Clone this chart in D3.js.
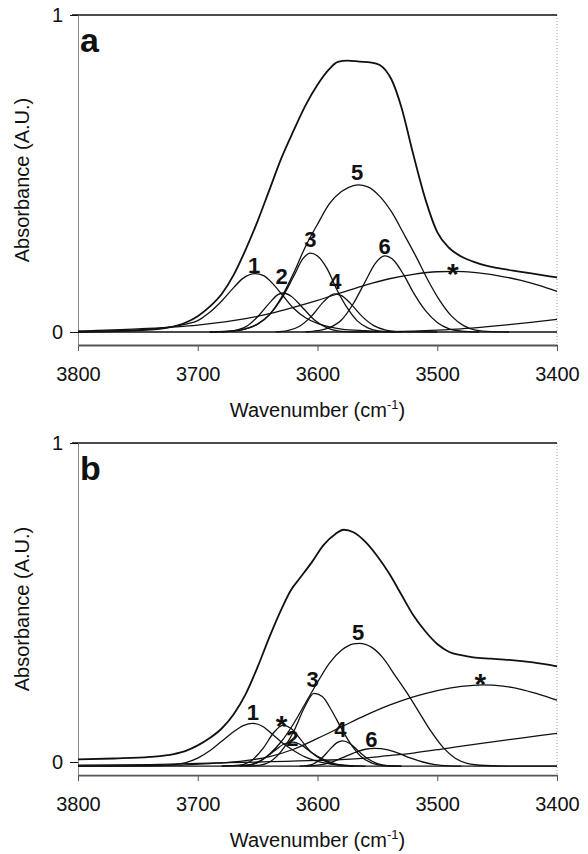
<!DOCTYPE html>
<html>
<head>
	<meta charset="utf-8">
	<script src="https://d3js.org/d3.v7.min.js"></script>
	<style>
		body { margin: 0; background: #fff; }
		text { font-family: "Liberation Sans", Arial, sans-serif; }
	</style>
</head>
<body>
	<div id="my_dataviz"></div>
	<script>

	// ---- data: [wavenumber, absorbance] ----
	// panel a
	const aTotal = [[3800,0],[3775,0.002],[3750,0.005],[3725,0.014],[3710,0.03],[3700,0.05],[3690,0.08],[3680,0.12],[3670,0.18],[3660,0.26],[3650,0.35],[3640,0.45],[3630,0.55],[3620,0.635],[3610,0.715],[3600,0.78],[3590,0.83],[3583,0.852],[3575,0.856],[3565,0.853],[3555,0.85],[3548,0.842],[3543,0.825],[3538,0.795],[3530,0.71],[3520,0.56],[3510,0.42],[3500,0.315],[3490,0.265],[3480,0.238],[3470,0.222],[3460,0.21],[3450,0.202],[3430,0.19],[3415,0.181],[3400,0.172]]
	const a1 = [[3800,0.002],[3760,0.005],[3740,0.009],[3720,0.017],[3710,0.025],[3700,0.036],[3690,0.062],[3680,0.098],[3670,0.14],[3662,0.17],[3652,0.184],[3645,0.178],[3638,0.155],[3630,0.12],[3620,0.075],[3610,0.045],[3600,0.027],[3590,0.016],[3580,0.009],[3560,0.004],[3540,0.001],[3500,0]]
	const a2 = [[3680,0],[3670,0.004],[3660,0.016],[3650,0.048],[3640,0.092],[3633,0.118],[3629,0.123],[3622,0.113],[3612,0.075],[3602,0.036],[3592,0.013],[3582,0.003],[3570,0]]
	const a3 = [[3690,0],[3670,0.003],[3660,0.01],[3650,0.025],[3640,0.055],[3630,0.105],[3620,0.175],[3612,0.232],[3606,0.249],[3600,0.24],[3592,0.2],[3584,0.135],[3575,0.075],[3567,0.036],[3558,0.013],[3548,0.003],[3535,0]]
	const a4 = [[3635,0],[3625,0.004],[3615,0.018],[3605,0.05],[3595,0.095],[3586,0.12],[3580,0.115],[3572,0.088],[3563,0.05],[3553,0.02],[3543,0.006],[3530,0]]
	const a5 = [[3690,0],[3670,0.004],[3660,0.01],[3650,0.025],[3640,0.055],[3630,0.11],[3620,0.185],[3610,0.27],[3600,0.34],[3590,0.405],[3580,0.443],[3570,0.462],[3566,0.464],[3558,0.458],[3548,0.428],[3538,0.378],[3528,0.31],[3518,0.24],[3508,0.165],[3498,0.1],[3488,0.05],[3478,0.02],[3468,0.006],[3455,0.001],[3440,0]]
	const a6 = [[3610,0],[3600,0.004],[3590,0.014],[3580,0.038],[3570,0.09],[3560,0.16],[3552,0.215],[3544,0.24],[3536,0.225],[3528,0.18],[3520,0.125],[3510,0.068],[3500,0.03],[3490,0.01],[3480,0.003],[3465,0]]
	const aStar = [[3800,0.003],[3750,0.01],[3700,0.022],[3660,0.042],[3640,0.058],[3620,0.078],[3600,0.1],[3580,0.124],[3560,0.148],[3540,0.168],[3520,0.182],[3500,0.19],[3485,0.191],[3470,0.188],[3450,0.178],[3430,0.163],[3415,0.147],[3400,0.128]]
	const aBase = [[3570,0],[3540,0.001],[3520,0.003],[3500,0.006],[3480,0.01],[3460,0.016],[3440,0.023],[3420,0.031],[3400,0.04]]
	const aFlat = [[3800,0],[3400,0]]

	// panel b
	const bTotal = [[3800,0.008],[3770,0.011],[3740,0.016],[3720,0.025],[3710,0.035],[3700,0.052],[3690,0.075],[3680,0.105],[3670,0.15],[3660,0.213],[3650,0.298],[3640,0.393],[3630,0.48],[3622,0.54],[3615,0.575],[3605,0.625],[3595,0.68],[3585,0.715],[3578,0.728],[3570,0.72],[3560,0.69],[3550,0.645],[3540,0.59],[3530,0.525],[3520,0.46],[3510,0.41],[3500,0.37],[3490,0.345],[3480,0.335],[3470,0.328],[3455,0.324],[3440,0.32],[3420,0.312],[3400,0.3]]
	const b1 = [[3800,-0.013],[3740,-0.012],[3720,-0.008],[3710,-0.002],[3700,0.012],[3690,0.035],[3680,0.065],[3670,0.095],[3662,0.114],[3654,0.121],[3646,0.112],[3638,0.088],[3630,0.062],[3620,0.036],[3610,0.015],[3600,0.002],[3590,-0.006],[3575,-0.011],[3560,-0.013]]
	const bStarSmall = [[3680,-0.013],[3665,-0.01],[3655,0.005],[3645,0.045],[3637,0.09],[3629,0.115],[3622,0.105],[3614,0.07],[3605,0.03],[3595,0.005],[3585,-0.008],[3570,-0.013]]
	const b2 = [[3665,-0.013],[3655,-0.008],[3645,0.01],[3635,0.038],[3627,0.058],[3620,0.062],[3613,0.052],[3605,0.03],[3595,0.008],[3585,-0.006],[3570,-0.013]]
	const b3 = [[3660,-0.013],[3648,-0.01],[3640,0],[3630,0.035],[3620,0.095],[3611,0.17],[3603,0.215],[3596,0.205],[3588,0.16],[3580,0.105],[3572,0.055],[3564,0.018],[3555,-0.003],[3545,-0.011],[3530,-0.013]]
	const b4 = [[3615,-0.013],[3605,-0.008],[3597,0.01],[3590,0.038],[3584,0.06],[3579,0.066],[3573,0.058],[3566,0.035],[3558,0.01],[3550,-0.005],[3540,-0.012],[3530,-0.013]]
	const b5 = [[3680,-0.013],[3660,-0.01],[3650,-0.002],[3640,0.025],[3630,0.065],[3620,0.12],[3610,0.185],[3600,0.25],[3590,0.31],[3580,0.35],[3570,0.37],[3565,0.372],[3555,0.36],[3545,0.325],[3535,0.27],[3525,0.215],[3515,0.155],[3505,0.095],[3495,0.045],[3485,0.012],[3475,-0.004],[3460,-0.011],[3440,-0.013],[3400,-0.013]]
	const b6 = [[3610,-0.013],[3600,-0.01],[3590,-0.003],[3580,0.012],[3570,0.028],[3560,0.04],[3552,0.043],[3542,0.039],[3532,0.027],[3522,0.012],[3512,0],[3502,-0.008],[3490,-0.012],[3480,-0.013]]
	const bStar = [[3800,-0.013],[3720,-0.01],[3690,-0.005],[3660,0.004],[3640,0.017],[3620,0.04],[3600,0.074],[3580,0.11],[3560,0.146],[3540,0.178],[3520,0.204],[3500,0.224],[3480,0.237],[3462,0.242],[3445,0.238],[3430,0.228],[3415,0.212],[3400,0.194]]
	const bBase = [[3800,-0.01],[3740,-0.008],[3700,-0.004],[3650,0],[3600,0.005],[3560,0.012],[3548,0.017],[3520,0.028],[3492,0.043],[3460,0.06],[3430,0.075],[3400,0.09]]
	const bFlat = [[3800,-0.013],[3400,-0.013]]

	// peak labels: text, wavenumber, absorbance (label centre)
	const aLabelText = ["1","2","3","4","5","6","*"]
	const aLabelWn   = [3653, 3630, 3606, 3585, 3567, 3544, 3487]
	const aLabelAbs  = [0.21, 0.175, 0.292, 0.162, 0.505, 0.272, 0.21]
	const bLabelText = ["1","*","2","3","4","5","6","*"]
	const bLabelWn   = [3654, 3630, 3621, 3604, 3581, 3566, 3555, 3464]
	const bLabelAbs  = [0.155, 0.14, 0.075, 0.26, 0.103, 0.406, 0.071, 0.272]

	// axis ticks
	const xTicks = [3800, 3700, 3600, 3500, 3400]
	const yTicks = [0, 1]

	const width = 588
	const height = 854

	const svg = d3.select("#my_dataviz")
	  .append("svg")
	    .attr("width", width)
	    .attr("height", height)

	const panels = [
		{ letter: "a", top: 15, zero: 332,
		  thin: [a1, a2, a3, a4, a5, a6, aStar, aBase, aFlat], total: aTotal,
		  labels: aLabelText.map((t, i) => ({ t, wn: aLabelWn[i], v: aLabelAbs[i] })) },
		{ letter: "b", top: 443, zero: 762,
		  thin: [b1, bStarSmall, b2, b3, b4, b5, b6, bStar, bBase, bFlat], total: bTotal,
		  labels: bLabelText.map((t, i) => ({ t, wn: bLabelWn[i], v: bLabelAbs[i] })) }
	]

	const x = d3.scaleLinear().domain([3800, 3400]).range([78, 557])

	panels.forEach(p => {
		const yMin = -0.041
		const y = d3.scaleLinear().domain([0, 1]).range([p.zero, p.top])
		const bottom = y(yMin)
		const g = svg.append("g")

		// right border (dotted) and top border
		g.append("line")
		  .attr("x1", x(3400)).attr("x2", x(3400))
		  .attr("y1", y(1)).attr("y2", bottom)
		  .attr("stroke", "#999").attr("stroke-dasharray", "1,2")
		g.append("line")
		  .attr("x1", x(3800) - 6).attr("x2", x(3400))
		  .attr("y1", y(1)).attr("y2", y(1))
		  .attr("stroke", "#111").attr("stroke-width", 1.3)

		// x axis at the bottom of the plot area
		const xAxis = g.append("g")
		  .attr("transform", `translate(0,${bottom})`)
		  .call(d3.axisBottom(x).tickValues(xTicks).tickFormat(d3.format("d"))
		    .tickSize(6).tickSizeOuter(0).tickPadding(16))
		xAxis.select(".domain").attr("stroke", "#555").attr("stroke-width", 1.8)
		xAxis.selectAll(".tick line").attr("stroke", "#555")
		xAxis.selectAll("text").attr("font-size", 20).attr("fill", "#111")

		// y axis
		const yAxisScale = d3.scaleLinear().domain([yMin, 1]).range([bottom, p.top])
		const yAxis = g.append("g")
		  .attr("transform", `translate(${x(3800)},0)`)
		  .call(d3.axisLeft(yAxisScale).tickValues(yTicks).tickFormat(d3.format("d"))
		    .tickSize(8).tickSizeOuter(0).tickPadding(7))
		yAxis.select(".domain").attr("stroke", "#888")
		yAxis.selectAll(".tick line").attr("stroke", "#111")
		yAxis.selectAll("text").attr("font-size", 20).attr("fill", "#111")

		// axis titles
		const xt = g.append("text")
		  .attr("x", (x(3800) + x(3400)) / 2)
		  .attr("y", bottom + 72)
		  .attr("text-anchor", "middle")
		  .attr("font-size", 20)
		  .attr("fill", "#111")
		xt.append("tspan").text("Wavenumber (cm")
		xt.append("tspan").text("-1").attr("font-size", 13).attr("dy", -8)
		xt.append("tspan").text(")").attr("dy", 8)

		g.append("text")
		  .attr("transform", `translate(29,${(p.top + bottom) / 2}) rotate(-90)`)
		  .attr("text-anchor", "middle")
		  .attr("font-size", 20)
		  .attr("fill", "#111")
		  .text("Absorbance (A.U.)")

		// panel letter
		g.append("text")
		  .attr("x", 80).attr("y", p.top + 37)
		  .attr("font-size", 34).attr("font-weight", "bold")
		  .attr("fill", "#111")
		  .text(p.letter)

		// curves
		const line = d3.line()
		  .x(d => x(d[0]))
		  .y(d => y(d[1]))
		  .curve(d3.curveMonotoneX)

		g.selectAll("path.comp")
		  .data(p.thin)
		  .join("path")
		    .attr("class", "comp")
		    .attr("d", line)
		    .attr("fill", "none")
		    .attr("stroke", "#111")
		    .attr("stroke-width", 1.3)

		g.append("path")
		  .datum(p.total)
		  .attr("d", line)
		  .attr("fill", "none")
		  .attr("stroke", "#111")
		  .attr("stroke-width", 1.8)

		// peak labels
		g.selectAll("text.peak")
		  .data(p.labels)
		  .join("text")
		    .attr("class", "peak")
		    .attr("x", d => x(d.wn))
		    .attr("y", d => y(d.v))
		    .attr("dy", d => d.t === "*" ? "0.62em" : "0.36em")
		    .attr("text-anchor", "middle")
		    .attr("font-size", d => d.t === "*" ? 30 : 22)
		    .attr("font-weight", "bold")
		    .attr("fill", "#111")
		    .text(d => d.t)
	})

	</script>
</body>
</html>
